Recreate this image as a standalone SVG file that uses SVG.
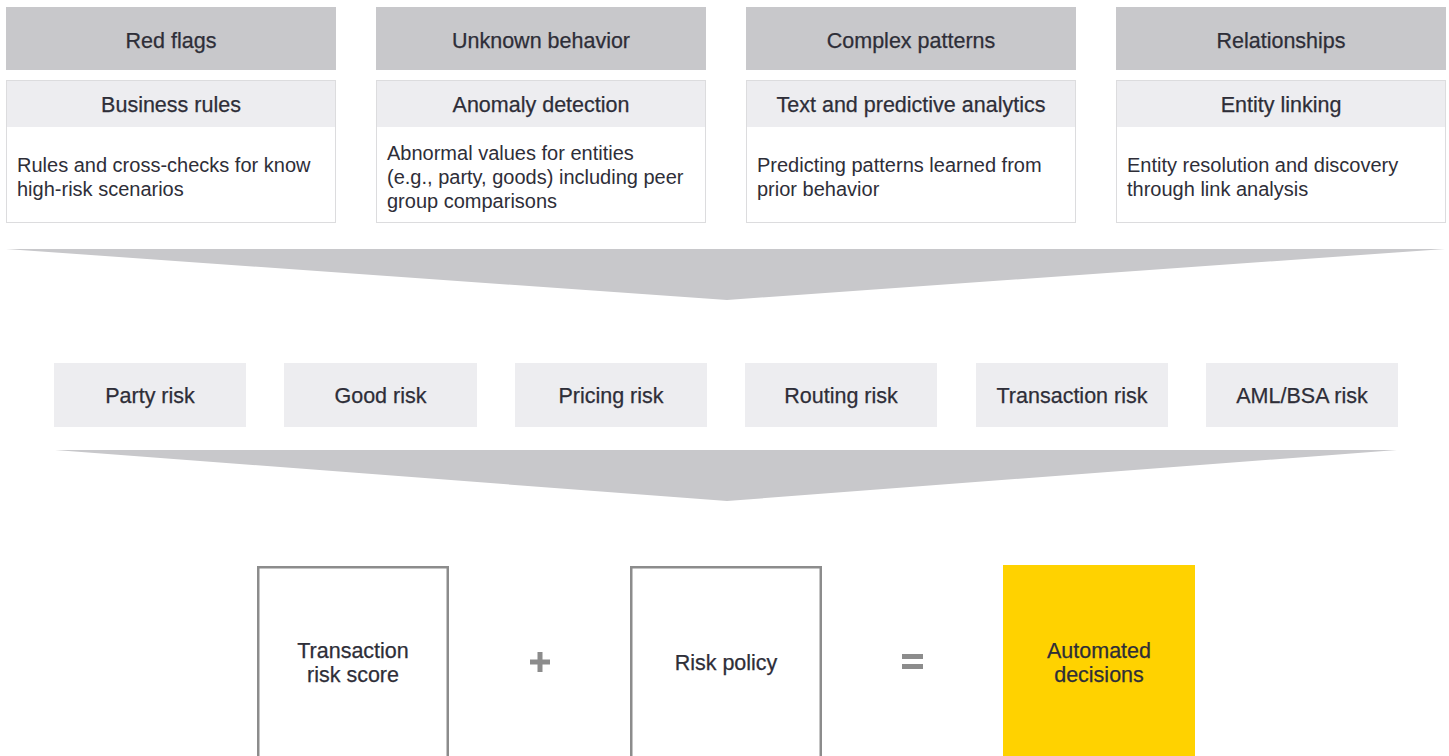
<svg xmlns="http://www.w3.org/2000/svg" width="1449" height="756" viewBox="0 0 1449 756">
<style>
text{font-family:"Liberation Sans",Arial,sans-serif;font-size:20px;fill:#2e2e38}
.c{text-anchor:middle;font-size:21.5px;stroke:#2e2e38;stroke-width:0.25}
.hdr{fill:#c8c8cb}
.sub{fill:#ededf0}
.card{fill:#fff;stroke:#dcdcde;stroke-width:1}
.risk{fill:#ededf0}
.box{fill:#fff;stroke:#8c8c8c;stroke-width:2.5}
.fun{fill:#c8c8cb}
.op{fill:#8c8c8c}
</style>
<rect width="1449" height="756" fill="#fff"/>
<g id="col1">
<rect class="hdr" x="6" y="7" width="330" height="63"/>
<text class="c" x="171" y="48">Red flags</text>
<rect class="card" x="6.5" y="80.5" width="329" height="142"/>
<rect class="sub" x="7" y="81" width="328" height="46"/>
<text class="c" x="171" y="112">Business rules</text>
<text x="17" y="172">Rules and cross-checks for know</text>
<text x="17" y="196">high-risk scenarios</text>
</g>
<g id="col2">
<rect class="hdr" x="376" y="7" width="330" height="63"/>
<text class="c" x="541" y="48">Unknown behavior</text>
<rect class="card" x="376.5" y="80.5" width="329" height="142"/>
<rect class="sub" x="377" y="81" width="328" height="46"/>
<text class="c" x="541" y="112">Anomaly detection</text>
<text x="387" y="160">Abnormal values for entities</text>
<text x="387" y="184">(e.g., party, goods) including peer</text>
<text x="387" y="208">group comparisons</text>
</g>
<g id="col3">
<rect class="hdr" x="746" y="7" width="330" height="63"/>
<text class="c" x="911" y="48">Complex patterns</text>
<rect class="card" x="746.5" y="80.5" width="329" height="142"/>
<rect class="sub" x="747" y="81" width="328" height="46"/>
<text class="c" x="911" y="112">Text and predictive analytics</text>
<text x="757" y="172">Predicting patterns learned from</text>
<text x="757" y="196">prior behavior</text>
</g>
<g id="col4">
<rect class="hdr" x="1116" y="7" width="330" height="63"/>
<text class="c" x="1281" y="48">Relationships</text>
<rect class="card" x="1116.5" y="80.5" width="329" height="142"/>
<rect class="sub" x="1117" y="81" width="328" height="46"/>
<text class="c" x="1281" y="112">Entity linking</text>
<text x="1127" y="172">Entity resolution and discovery</text>
<text x="1127" y="196">through link analysis</text>
</g>
<g id="connectors">
<polygon class="fun" points="6,249 1445,249 727,300"/>
<polygon class="fun" points="55,450 1397,450 727,501"/>
</g>
<g id="party"><rect class="risk" x="54" y="363" width="192" height="64"/><text class="c" x="150" y="403">Party risk</text></g>
<g id="good"><rect class="risk" x="284" y="363" width="193" height="64"/><text class="c" x="380.5" y="403">Good risk</text></g>
<g id="pricing"><rect class="risk" x="515" y="363" width="192" height="64"/><text class="c" x="611" y="403">Pricing risk</text></g>
<g id="routing"><rect class="risk" x="745" y="363" width="192" height="64"/><text class="c" x="841" y="403">Routing risk</text></g>
<g id="transaction"><rect class="risk" x="976" y="363" width="192" height="64"/><text class="c" x="1072" y="403">Transaction risk</text></g>
<g id="aml"><rect class="risk" x="1206" y="363" width="192" height="64"/><text class="c" x="1302" y="403">AML/BSA risk</text></g>
<g id="score">
<rect class="box" x="258.25" y="567.25" width="189.5" height="192"/>
<text class="c" x="353" y="658">Transaction</text>
<text class="c" x="353" y="682">risk score</text>
</g>
<g id="plus"><rect class="op" x="530" y="659.5" width="20" height="5"/><rect class="op" x="537.5" y="652" width="5" height="20"/></g>
<g id="policy">
<rect class="box" x="631.25" y="567.25" width="189.5" height="192"/>
<text class="c" x="726" y="670">Risk policy</text>
</g>
<g id="equals"><rect class="op" x="902" y="654" width="21" height="5"/><rect class="op" x="902" y="664" width="21" height="5"/></g>
<g id="decisions">
<rect x="1003" y="565" width="192" height="191" fill="#ffd200"/>
<text class="c" x="1099" y="658">Automated</text>
<text class="c" x="1099" y="682">decisions</text>
</g>
</svg>
